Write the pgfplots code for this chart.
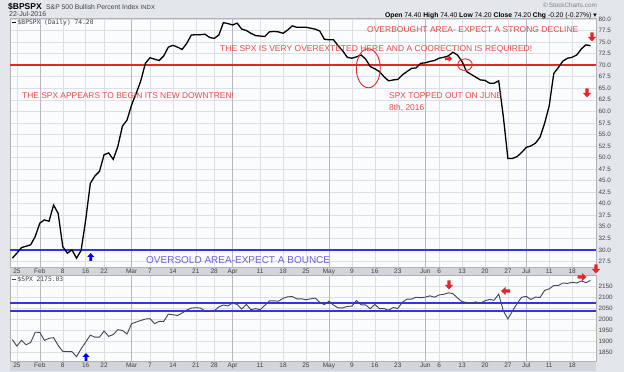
\documentclass[border=0pt]{standalone}
\usepackage{pgfplots}
\usepackage{pgfplotstable}
\pgfplotsset{compat=1.18}
\usepackage{fontspec}
\setmainfont{Liberation Sans}
\newfontfamily\monof{DejaVu Sans Mono}
\newfontfamily\dejavu{DejaVu Sans}
\definecolor{bgc}{HTML}{E3E7EC}
\definecolor{plotbg}{HTML}{FBFCFD}
\definecolor{gridc}{HTML}{DCE0E6}
\definecolor{gridm}{HTML}{B4B9C2}
\definecolor{bandc}{HTML}{D2D6DC}
\definecolor{refred}{HTML}{E3262A}
\definecolor{redt}{HTML}{EA4A4A}
\definecolor{refblue}{HTML}{3434E6}
\definecolor{bluet}{HTML}{6B63E0}
\definecolor{spxc}{HTML}{3C4654}
\definecolor{tickc}{HTML}{404040}

\pgfplotstableread{
x y
-1 28.2
0 29.3
1 30.5
2 30.8
3 31.1
4 32.9
5 35.8
6 36.5
7 36.2
8 39.7
9 37.9
10 30.7
11 29.3
12 30.0
13 28.2
14 29.9
15 36.5
16 44.4
17 46.0
18 47.0
19 50.6
20 51.0
21 49.6
22 52.4
23 56.8
24 58.1
25 61.4
26 63.9
27 66.6
28 70.4
29 71.6
30 71.3
31 71.0
32 72.0
33 73.9
34 74.3
35 73.9
36 73.4
37 74.7
38 76.5
39 76.6
40 76.6
41 76.7
42 76.0
43 75.8
44 76.5
45 79.2
46 79.0
47 78.7
48 79.1
49 77.8
50 77.5
51 76.9
52 76.4
53 76.3
54 76.2
55 77.2
56 77.3
57 77.2
58 76.9
59 77.6
60 78.5
61 78.2
62 78.2
63 78.2
64 78.0
65 77.8
66 77.4
67 75.6
68 75.5
69 75.5
70 74.2
71 73.1
72 71.7
73 71.5
74 71.8
75 72.2
76 71.3
77 69.7
78 69.2
79 68.6
80 67.5
81 66.6
82 66.8
83 66.9
84 67.9
85 68.6
86 69.3
87 69.4
88 70.4
89 70.5
90 70.8
91 71.0
92 71.5
93 71.7
94 72.0
95 72.8
96 72.2
97 70.8
98 68.6
99 68.0
100 67.4
101 66.8
102 66.7
103 66.1
104 66.1
105 66.6
106 58.9
107 49.8
108 49.8
109 50.2
110 51.1
111 52.2
112 52.5
113 53.1
114 54.4
115 57.4
116 61.2
117 68.2
118 69.5
119 70.9
120 71.5
121 71.7
122 72.2
123 73.5
124 74.4
125 74.2
}\bpspx

\pgfplotstableread{
x y
-1 1906.9
0 1877.1
1 1903.6
2 1882.9
3 1893.4
4 1940.2
5 1939.4
6 1903.0
7 1912.5
8 1915.5
9 1880.1
10 1853.4
11 1852.2
12 1851.9
13 1829.1
14 1864.8
15 1895.6
16 1926.8
17 1917.8
18 1917.8
19 1945.5
20 1921.3
21 1929.8
22 1951.7
23 1948.1
24 1932.2
25 1978.4
26 1986.5
27 1993.4
28 2000.0
29 2001.8
30 1979.3
31 1989.3
32 1989.6
33 2022.2
34 2019.6
35 2015.9
36 2027.2
37 2040.6
38 2049.6
39 2051.6
40 2049.8
41 2036.7
42 2035.9
43 2037.1
44 2055.0
45 2063.9
46 2059.7
47 2072.8
48 2066.1
49 2045.2
50 2066.7
51 2041.9
52 2047.6
53 2042.0
54 2061.7
55 2082.4
56 2082.8
57 2080.7
58 2094.3
59 2100.8
60 2102.4
61 2091.5
62 2091.6
63 2087.8
64 2091.7
65 2095.2
66 2075.8
67 2065.3
68 2081.4
69 2063.4
70 2051.1
71 2050.6
72 2057.1
73 2058.7
74 2084.4
75 2064.5
76 2064.1
77 2046.6
78 2066.7
79 2047.2
80 2047.6
81 2040.0
82 2052.3
83 2048.0
84 2076.1
85 2090.5
86 2090.1
87 2099.1
88 2097.0
89 2099.3
90 2105.3
91 2099.1
92 2109.4
93 2112.1
94 2119.1
95 2115.5
96 2096.1
97 2079.1
98 2075.3
99 2071.5
100 2078.0
101 2071.2
102 2083.3
103 2088.9
104 2085.5
105 2113.3
106 2037.4
107 2000.5
108 2036.1
109 2070.8
110 2098.9
111 2103.0
112 2088.6
113 2099.7
114 2097.9
115 2129.9
116 2137.2
117 2152.1
118 2152.4
119 2163.8
120 2161.7
121 2166.9
122 2163.8
123 2173.0
124 2165.2
125 2175.0
}\spx

\pgfplotstableread{
x y
-1.5 70
126.2 70
}\lineseventy
\pgfplotstableread{
x y
-1.5 30
126.2 30
}\linethirty
\pgfplotstableread{
x y
-1.5 2071
126.2 2071
}\spxhigh
\pgfplotstableread{
x y
-1.5 2035
126.2 2035
}\spxlow

\pgfplotsset{
  panel/.style={
    scale only axis, width=586bp,
    xmin=-1.5, xmax=126.2,
    axis background/.style={fill=plotbg},
    axis line style={draw=gray!60, line width=0.6bp},
    tick style={draw=none},
    xtick={0,10,15,19,29,34,39,43,53,58,63,73,78,83,92,97,102,107,116,121},
    xticklabels={25,8,16,22,7,14,21,28,11,18,25,9,16,23,6,13,20,27,11,18},
    extra x ticks={5,25,47,68,89,111},
    extra x tick labels={Feb,Mar,Apr,May,Jun,Jul},
    extra x tick style={grid=major, major grid style={draw=gridm, line width=0.6bp},
       tick label style={font=\fontsize{6.5bp}{7bp}\selectfont\bfseries}},
    xticklabel style={font=\fontsize{6.5bp}{7bp}\selectfont, text=tickc, anchor=north, inner sep=0pt, yshift=-2bp},
    yticklabel pos=right,
    yticklabel style={font=\fontsize{6.3bp}{7bp}\selectfont, text=tickc, anchor=west, inner sep=0pt, xshift=2.5bp},
    grid=major, major grid style={draw=gridc, line width=0.5bp},
    /pgf/number format/assume math mode=true,
    clip=true,
  }
}

\newcommand{\arrD}[4]{\fill[#1,shift={(#2,#3)},scale=#4] (-1.8,-5)--(1.8,-5)--(1.8,0)--(4.5,0)--(0,5)--(-4.5,0)--(-1.8,0)--cycle;}
\newcommand{\arrU}[4]{\fill[#1,shift={(#2,#3)},scale=#4] (-1.8,5)--(1.8,5)--(1.8,0)--(4.5,0)--(0,-5)--(-4.5,0)--(-1.8,0)--cycle;}
\newcommand{\arrR}[4]{\fill[#1,shift={(#2,#3)},scale=#4] (-5,-1.8)--(-5,1.8)--(0,1.8)--(0,4.5)--(5,0)--(0,-4.5)--(0,-1.8)--cycle;}
\newcommand{\arrL}[4]{\fill[#1,shift={(#2,#3)},scale=#4] (5,-1.8)--(5,1.8)--(0,1.8)--(0,4.5)--(-5,0)--(0,-4.5)--(0,-1.8)--cycle;}

\begin{document}
\begin{tikzpicture}
\fill[bgc] (0,0) rectangle (624bp,372bp);
% date bands
\fill[bandc] (10bp,{372bp-276bp}) rectangle (596bp,{372bp-267bp});
\fill[bandc] (10bp,{372bp-371bp}) rectangle (596bp,{372bp-361bp});

\begin{axis}[panel, at={(10bp,105bp)}, anchor=south west, height=248.5bp,
  ymin=26.3, ymax=80.1, ytick distance=2.5,
  yticklabel style={/pgf/number format/.cd, fixed, fixed zerofill, precision=1}]
  \addplot[color=refred, line width=1.8bp, mark=none] table[x=x,y=y] {\lineseventy};
  \addplot[color=refblue, line width=2bp, mark=none] table[x=x,y=y] {\linethirty};
  \addplot[color=black, line width=1.3bp, mark=none] table[x=x,y=y] {\bpspx};
\end{axis}

\begin{axis}[panel, at={(10bp,11bp)}, anchor=south west, height=85.5bp,
  ymin=1809.5, ymax=2197.7, ytick={1850,1900,...,2150},
  yticklabel style={/pgf/number format/.cd, 1000 sep={}}]
  \addplot[color=refblue, line width=2bp, mark=none] table[x=x,y=y] {\spxhigh};
  \addplot[color=refblue, line width=2bp, mark=none] table[x=x,y=y] {\spxlow};
  \addplot[color=spxc, line width=0.9bp, mark=none] table[x=x,y=y] {\spx};
\end{axis}

\begin{scope}[shift={(0bp,372bp)}, x=1bp, y=-1bp]
  % header
  \node[anchor=west, inner sep=0pt] at (8,6.5) {\fontsize{8.5bp}{10bp}\selectfont\bfseries \$BPSPX};
  \node[anchor=west, inner sep=0pt, text=tickc] at (46,6.8) {\fontsize{6.8bp}{8bp}\selectfont S\&P 500 Bullish Percent Index \fontsize{6bp}{7bp}\selectfont INDX};
  \node[anchor=west, inner sep=0pt, text=tickc] at (9,14.5) {\fontsize{7bp}{8bp}\selectfont 22-Jul-2016};
  \node[anchor=east, inner sep=0pt, text=gray] at (597,5) {\fontsize{6.3bp}{7bp}\selectfont\textcopyright\,StockCharts.com};
  \node[anchor=east, inner sep=0pt, text=black] at (597,15.5) {\fontsize{6.8bp}{8bp}\selectfont \textbf{Open} 74.40 \textbf{High} 74.40 \textbf{Low} 74.20 \textbf{Close} 74.20 \textbf{Chg} -0.20 (-0.27\%) {\dejavu ▾}};
  % legends
  \draw[black, line width=1.2bp] (12,22.5) -- (16,22.5);
  \node[anchor=west, inner sep=0pt, text=tickc] at (17.5,22.5) {\monof\fontsize{6.3bp}{7bp}\selectfont \$BPSPX (Daily) 74.20};
  \draw[spxc, line width=1.2bp] (12,279.5) -- (16,279.5);
  \node[anchor=west, inner sep=0pt, text=tickc] at (17.5,279.5) {\monof\fontsize{6.3bp}{7bp}\selectfont \$SPX 2175.03};
  % annotations
  \node[anchor=west, inner sep=0pt, text=redt] at (367,29.5) {\fontsize{8.5bp}{10bp}\selectfont OVERBOUGHT AREA- EXPECT A STRONG DECLINE};
  \node[anchor=west, inner sep=0pt, text=redt] at (220,49.5) {\fontsize{8.5bp}{10bp}\selectfont THE SPX IS VERY OVEREXTETED HERE AND A COORECTION IS REQUIRED!};
  \node[anchor=west, inner sep=0pt, text=redt] at (22,96) {\fontsize{8.4bp}{10bp}\selectfont THE SPX APPEARS TO BEGIN ITS NEW DOWNTREN!};
  \node[anchor=west, inner sep=0pt, text=redt] at (389,96) {\fontsize{8.4bp}{10bp}\selectfont SPX TOPPED OUT ON JUNE};
  \node[anchor=west, inner sep=0pt, text=redt] at (389,107.5) {\fontsize{8.4bp}{10bp}\selectfont 8th, 2016};
  \node[anchor=west, inner sep=0pt, text=bluet] at (146,260) {\fontsize{10bp}{11bp}\selectfont OVERSOLD AREA-EXPECT A BOUNCE};
  \draw[refred, line width=0.9bp] (368.3,68.3) ellipse [x radius=12, y radius=19.5];
  \draw[refred, line width=0.9bp] (465,64.7) ellipse [x radius=7.3, y radius=5.8];
  % arrows
  \arrD{refred}{592}{37}{0.9}
  \arrD{refred}{587}{93}{0.9}
  \arrR{refred}{448.5}{58.7}{0.75}
  \arrU{blue}{90.7}{257}{0.8}
  \arrU{blue}{86}{357}{0.8}
  \arrD{refred}{449}{285}{0.9}
  \arrL{refred}{505.5}{291}{0.9}
  \arrR{refred}{582}{277}{0.9}
  \arrD{refred}{596}{269}{0.9}
\end{scope}
\end{tikzpicture}
\end{document}
